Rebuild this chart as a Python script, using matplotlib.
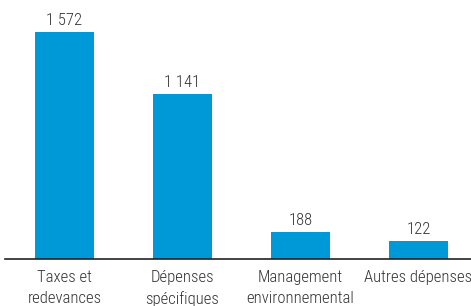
import matplotlib
matplotlib.use("Agg")
import matplotlib.pyplot as plt

# Data
categories = ['Taxes et\nredevances', 'Dépenses\nspécifiques', 'Management\nenvironnemental', 'Autres dépenses']
values = [1572, 1141, 188, 122]

bar_color = '#0099d8'
text_color = '#333333'

plt.rcParams['font.family'] = ['Roboto Condensed', 'DejaVu Sans']
plt.rcParams['font.weight'] = 'light'

fig = plt.figure(figsize=(4.71, 3.06), dpi=100)
ax = fig.add_axes([5.5 / 471, 47 / 306, 472 / 471, 259 / 306])

x = range(len(values))
ax.bar(x, values, width=0.5, color=bar_color)

for i, v in zip(x, values):
    label = f'{v:,}'.replace(',', ' ')
    ax.text(i, v + 30, label, ha='center', va='bottom', fontsize=12, color=text_color)

ax.set_xlim(-0.5, 3.5)
ax.set_ylim(0, 1793)
ax.set_xticks(list(x))
ax.set_xticklabels(categories, fontsize=12, color=text_color, linespacing=1.5, va='top')
ax.tick_params(axis='x', length=0, pad=8)
ax.set_yticks([])
for s in ['top', 'right', 'left']:
    ax.spines[s].set_visible(False)
ax.spines['bottom'].set_color('#222222')
ax.spines['bottom'].set_linewidth(1.2)

fig.savefig('out.png', dpi=100)
